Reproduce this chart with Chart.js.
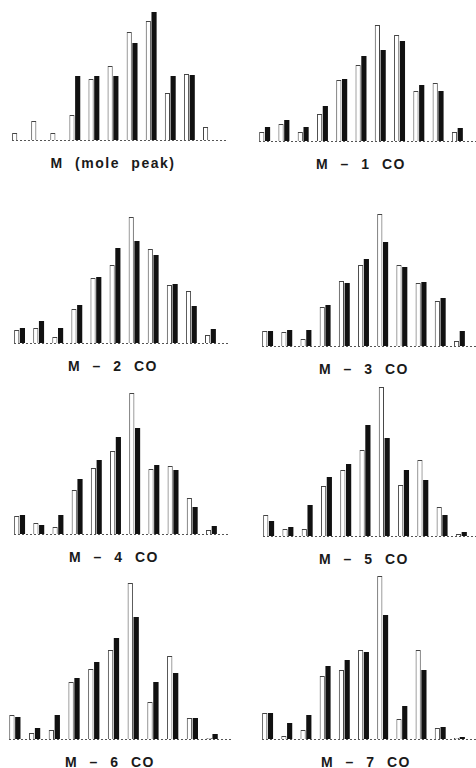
<!DOCTYPE html>
<html>
<head>
<meta charset="utf-8">
<script src="https://cdn.jsdelivr.net/npm/chart.js@4"></script>
<style>
  body { margin:0; background:#fff; width:476px; height:768px; position:relative; overflow:hidden; }
  canvas { position:absolute; }
  .ttl { position:absolute; font:bold 14px "Liberation Sans", Arial, sans-serif; letter-spacing:1.5px;
         word-spacing:6px; color:#1a1a1a; white-space:pre; transform:translateX(-50%); }
</style>
</head>
<body>
<script>
//Peak envelopes: open bars and solid bars for each ion, 11 peaks each
var peaks = ['1','2','3','4','5','6','7','8','9','10','11'];
var titles = ['M (mole peak)','M – 1 CO','M – 2 CO','M – 3 CO','M – 4 CO','M – 5 CO','M – 6 CO','M – 7 CO'];

var open0  = [7, 19, 7, 25, 61, 74, 108, 119, 47, 66, 13];
var solid0 = [0, 0, 0, 64, 64, 64, 97, 128, 64, 65, 0];
var open1  = [9, 17, 9, 27, 61, 76, 116, 106, 50, 58, 9];
var solid1 = [14, 21, 14, 35, 62, 85, 91, 100, 56, 50, 13];
var open2  = [13, 15, 6, 34, 65, 78, 126, 94, 58, 52, 8];
var solid2 = [15, 22, 15, 38, 66, 95, 102, 88, 59, 37, 14];
var open3  = [15, 14, 7, 39, 65, 81, 132, 81, 63, 45, 5];
var solid3 = [15, 16, 16, 41, 63, 87, 104, 79, 64, 48, 15];
var open4  = [18, 11, 7, 44, 66, 83, 141, 65, 68, 36, 4];
var solid4 = [19, 9, 19, 55, 74, 97, 106, 69, 64, 27, 8];
var open5  = [21, 7, 7, 50, 66, 86, 149, 51, 76, 29, 2];
var solid5 = [15, 9, 31, 59, 72, 111, 98, 66, 56, 21, 4];
var open6  = [24, 6, 9, 57, 70, 89, 156, 37, 83, 21, 1];
var solid6 = [22, 11, 24, 61, 77, 101, 122, 57, 66, 21, 5];
var open7  = [26, 3, 9, 63, 69, 89, 163, 20, 89, 11, 1];
var solid7 = [26, 16, 24, 73, 79, 87, 124, 33, 69, 12, 2];

var openSets  = [open0, open1, open2, open3, open4, open5, open6, open7];
var solidSets = [solid0, solid1, solid2, solid3, solid4, solid5, solid6, solid7];

// where each panel sits: left, width, baseline y, title centre x
var boxes = [
  [8, 210, 140, 113], [255, 212, 141, 361],
  [10, 210, 343, 113], [258, 211, 346, 364],
  [10, 211, 534, 114], [259, 212, 536, 364],
  [5, 217, 739, 110], [258, 211, 739, 366]
];
var AREA = 175; // chart area height, one unit = one pixel

//dotted base line under the bars
var baseline = {
  id: 'baseline',
  beforeDatasetsDraw: function(c) {
    var x = c.scales.x, y = c.scales.y, ctx = c.ctx;
    var py = Math.round(y.getPixelForValue(0)) + 0.5;
    ctx.save();
    ctx.strokeStyle = '#555';
    ctx.lineWidth = 1;
    ctx.setLineDash([2, 2]);
    ctx.beginPath();
    ctx.moveTo(x.left + 4, py);
    ctx.lineTo(x.right + 9, py);
    ctx.stroke();
    ctx.restore();
  }
};

for (var i = 0; i < 8; i++) {
  var b = boxes[i];
  var cv = document.createElement('canvas');
  cv.width = b[1] + 10;
  cv.height = AREA + 3;
  cv.style.left = b[0] + 'px';
  cv.style.top = (b[2] - AREA) + 'px';
  document.body.appendChild(cv);

  new Chart(cv.getContext('2d'), {
    type: 'bar',
    data: {
      labels: peaks,
      datasets: [{
        data: openSets[i],
        backgroundColor: '#fff',
        borderColor: '#444',
        borderWidth: 1,
        categoryPercentage: 0.6,
        barPercentage: 0.9
      }, {
        data: solidSets[i],
        backgroundColor: '#111',
        borderWidth: 0,
        categoryPercentage: 0.6,
        barPercentage: 0.9
      }]
    },
    options: {
      responsive: false,
      animation: false,
      events: [],
      layout: { padding: { left: 0, right: 10, top: 0, bottom: 3 } },
      plugins: { legend: { display: false }, tooltip: { enabled: false } },
      scales: {
        x: { display: false },
        y: { display: false, min: 0, max: AREA }
      }
    },
    plugins: [baseline]
  });

  var t = document.createElement('div');
  t.className = 'ttl';
  t.textContent = titles[i];
  t.style.left = b[3] + 'px';
  t.style.top = (b[2] + 15) + 'px';
  document.body.appendChild(t);
}
</script>
</body>
</html>
